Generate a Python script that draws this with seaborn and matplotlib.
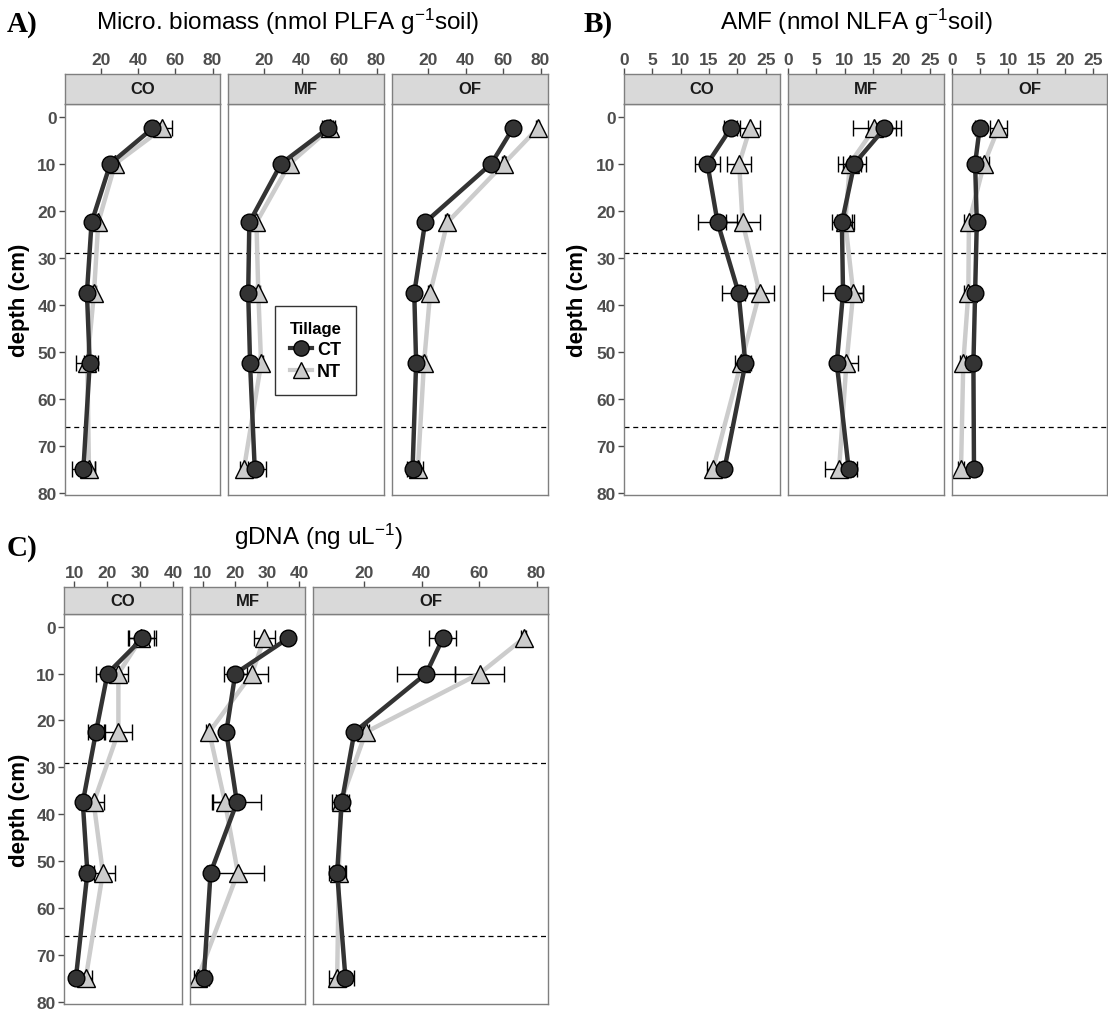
import numpy as np
import pandas as pd
import matplotlib
matplotlib.use('Agg')
import matplotlib.pyplot as plt
from matplotlib.lines import Line2D
import seaborn as sns

# ── Data ─────────────────────────────────────────────────────────────
depths  = [2.5, 10, 22.5, 37.5, 52.5, 75]
systems = ['CO', 'MF', 'OF']
horizon_breaks = [29, 66]

# rows: CO, MF, OF
plfa_ct    = [[47.6, 25.0, 14.9, 12.4, 13.9, 10.5],
              [53.9, 29.0, 12.0, 11.4, 12.4, 14.9],
              [65.2, 53.7, 18.3, 12.5, 13.5, 11.6]]
plfa_ct_se = [[2, 2, 1, 1, 3, 6],
              [3, 1, 1, 1, 1, 6],
              [1.5, 1, 1, 1, 1, 3]]
plfa_nt    = [[53.0, 27.6, 18.5, 16.2, 12.6, 13.5],
              [55.0, 33.5, 15.8, 16.8, 18.3, 9.1],
              [78.4, 60.4, 30.2, 21.0, 17.7, 14.4]]
plfa_nt_se = [[5, 2, 1, 1, 6, 3],
              [3, 1, 1, 1, 1, 2],
              [1, 1, 1, 1, 1, 3]]

amf_ct    = [[18.8, 14.7, 16.5, 20.2, 21.4, 17.7],
             [17.0, 11.7, 9.5, 9.7, 8.6, 10.7],
             [4.9, 4.1, 4.4, 4.1, 3.8, 3.9]]
amf_ct_se = [[1.2, 2.2, 3.5, 3.0, 1.0, 0.5],
             [2.9, 2.0, 1.8, 3.5, 0.5, 1.5],
             [0.8, 0.3, 0.3, 0.3, 0.3, 0.3]]
amf_nt    = [[22.2, 20.3, 20.9, 23.9, 20.6, 15.7],
             [15.2, 10.9, 10.1, 11.5, 10.3, 9.0],
             [8.2, 5.7, 3.0, 2.9, 2.0, 1.6]]
amf_nt_se = [[1.8, 2.1, 3.0, 2.5, 1.0, 1.0],
             [3.8, 2.0, 1.5, 1.8, 2.0, 2.5],
             [1.5, 0.8, 0.8, 0.8, 0.5, 0.5]]

dna_ct    = [[30.7, 20.1, 16.6, 12.6, 14.0, 10.5],
             [36.5, 20.1, 17.3, 20.6, 12.4, 10.3],
             [47.4, 41.6, 16.6, 12.2, 10.6, 13.5]]
dna_ct_se = [[4, 3.5, 2.5, 1, 2, 1],
             [1, 3.5, 1, 7.6, 1, 1.5],
             [4.7, 10, 1, 2, 3, 3]]
dna_nt    = [[30.3, 23.4, 23.4, 15.9, 18.7, 13.5],
             [29.1, 25.3, 12.0, 16.9, 20.9, 8.4],
             [75.5, 60.2, 20.6, 11.8, 11.2, 10.6]]
dna_nt_se = [[4, 3, 4, 3, 3.8, 2],
             [3.3, 5, 1, 3.6, 8.2, 1],
             [1, 8.5, 1, 3, 2, 3]]

plfa_xlim  = [(0.6, 84), (0.6, 84), (0.6, 84)]
plfa_ticks = [[20, 40, 60, 80]] * 3
amf_xlim   = [(0, 27.5), (0, 27.5), (0, 27.5)]
amf_ticks  = [[0, 5, 10, 15, 20, 25]] * 3
dna_xlim   = [(6.9, 42.7), (6.0, 41.8), (2.2, 84)]
dna_ticks  = [[10, 20, 30, 40], [10, 20, 30, 40], [20, 40, 60, 80]]
depth_ticks = [0, 10, 20, 30, 40, 50, 60, 70, 80]

# ── Style ────────────────────────────────────────────────────────────
plt.rcParams['font.family'] = ['Liberation Sans', 'DejaVu Sans']
palette = {'CT': '#333333', 'NT': '#CCCCCC'}
markers = {'CT': 'o', 'NT': '^'}
msize   = {'CT': 12, 'NT': 13}
TICK_COL = '#4D4D4D'
EDGE_COL = '#7F7F7F'

W, H = 1108, 1012
fig = plt.figure(figsize=(W / 100, H / 100), dpi=100)


def px_axes(x0, y0, x1, y1):
    return fig.add_axes([x0 / W, 1 - y1 / H, (x1 - x0) / W, (y1 - y0) / H])


def long_frame(ct, ct_se, nt, nt_se):
    rows = []
    for i, s in enumerate(systems):
        for d, v, e in zip(depths, ct[i], ct_se[i]):
            rows.append((s, 'CT', d, v, e))
        for d, v, e in zip(depths, nt[i], nt_se[i]):
            rows.append((s, 'NT', d, v, e))
    return pd.DataFrame(rows, columns=['system', 'tillage', 'depth', 'value', 'se'])


def draw_panel(df, lefts, rights, y_strip, y_top, y_bot, xlims, xticks):
    axes = []
    for i, s in enumerate(systems):
        ax = px_axes(lefts[i], y_top, rights[i], y_bot)
        st = px_axes(lefts[i], y_strip, rights[i], y_top)
        sub = df[df.system == s]

        # error bars sit behind the points
        for t in ['NT', 'CT']:
            g = sub[sub.tillage == t]
            ax.errorbar(g.value, g.depth, xerr=g.se, fmt='none',
                        ecolor='black', elinewidth=1, capsize=5.5,
                        capthick=1, zorder=1.5)
        # NT first so CT sits on top
        for t in ['NT', 'CT']:
            g = sub[sub.tillage == t]
            sns.lineplot(data=g, x='value', y='depth', hue='tillage',
                         palette=palette, marker=markers[t], orient='y',
                         estimator=None, linewidth=3.2, markersize=msize[t],
                         markeredgecolor='black', markeredgewidth=1,
                         legend=False, ax=ax)
        for b in horizon_breaks:
            ax.axhline(b, color='black', lw=0.9, ls=(0, (4, 3)), zorder=0)

        ax.set_xlim(xlims[i])
        ax.set_ylim(80.5, -2.7)
        ax.set_xticks([])
        ax.set_xlabel('')
        ax.set_ylabel('')
        if i == 0:
            ax.set_yticks(depth_ticks, labels=[str(d) for d in depth_ticks],
                          fontweight='bold')
            ax.tick_params(axis='y', length=4, width=1, color=TICK_COL,
                           labelcolor=TICK_COL, labelsize=12.5, pad=2)
        else:
            ax.set_yticks([])
        for sp in ax.spines.values():
            sp.set_color(EDGE_COL)
            sp.set_linewidth(1)

        st.set_facecolor('#D9D9D9')
        st.set_xlim(xlims[i])
        st.set_ylim(0, 1)
        st.set_yticks([])
        st.xaxis.tick_top()
        st.set_xticks(xticks[i], labels=[str(v) for v in xticks[i]],
                      fontweight='bold')
        st.tick_params(axis='x', top=True, bottom=False, length=4, width=1,
                       color=TICK_COL, labelcolor=TICK_COL, labelsize=12.5, pad=1)
        for sp in st.spines.values():
            sp.set_color(EDGE_COL)
            sp.set_linewidth(1)
        st.text(0.5, 0.5, s, transform=st.transAxes, ha='center', va='center',
                fontsize=12, fontweight='bold', color='#1A1A1A')
        axes.append(ax)
    return axes


# ── Panel A: microbial biomass ───────────────────────────────────────
df_a = long_frame(plfa_ct, plfa_ct_se, plfa_nt, plfa_nt_se)
axes_a = draw_panel(df_a, [65, 228, 392], [220, 384, 548], 75, 105, 496,
                    plfa_xlim, plfa_ticks)

# ── Panel B: AMF ─────────────────────────────────────────────────────
df_b = long_frame(amf_ct, amf_ct_se, amf_nt, amf_nt_se)
axes_b = draw_panel(df_b, [624, 788, 952], [780, 944, 1107], 75, 105, 496,
                    amf_xlim, amf_ticks)

# ── Panel C: gDNA ────────────────────────────────────────────────────
df_c = long_frame(dna_ct, dna_ct_se, dna_nt, dna_nt_se)
axes_c = draw_panel(df_c, [64, 190, 313], [182, 305, 548], 588, 615, 1005,
                    dna_xlim, dna_ticks)

# ── Titles, labels ───────────────────────────────────────────────────
def fig_text(x, y, s, **kw):
    fig.text(x / W, 1 - y / H, s, **kw)


fig_text(288, 22, r'Micro. biomass (nmol PLFA g$\mathregular{^{-1}}$soil)',
         ha='center', va='center', fontsize=17.5)
fig_text(856, 22, r'AMF (nmol NLFA g$\mathregular{^{-1}}$soil)',
         ha='center', va='center', fontsize=17.5)
fig_text(318, 537, r'gDNA (ng uL$\mathregular{^{-1}}$)',
         ha='center', va='center', fontsize=17.5)

for lab, x, y in [('A)', 7, 25), ('B)', 584, 25), ('C)', 7, 549)]:
    fig_text(x, y, lab, ha='left', va='center', fontsize=21,
             fontweight='bold', family=['Liberation Serif', 'DejaVu Serif'])

for x, y in [(20, 300), (578, 300), (20, 810)]:
    fig_text(x, y, 'depth (cm)', ha='center', va='center', rotation=90,
             fontsize=16, fontweight='bold')

# ── Legend ───────────────────────────────────────────────────────────
handles = [Line2D([0], [0], color=palette[t], lw=3, marker=markers[t],
                  markersize=msize[t] - 1, markeredgecolor='black',
                  markeredgewidth=1)
           for t in ['CT', 'NT']]
leg = axes_a[1].legend(handles, ['CT', 'NT'], title='Tillage',
                       loc='center', bbox_to_anchor=(315.5 / W, 1 - 351.5 / H),
                       bbox_transform=fig.transFigure, frameon=True,
                       fancybox=False, edgecolor='black', handlelength=1.2,
                       handletextpad=0.3, labelspacing=0.3, borderpad=0.8,
                       prop={'weight': 'bold', 'size': 13})
leg.get_title().set_fontweight('bold')
leg.get_title().set_fontsize(12)
leg.get_frame().set_linewidth(1)

fig.savefig('out.png', dpi=100, facecolor='white')
plt.close(fig)
